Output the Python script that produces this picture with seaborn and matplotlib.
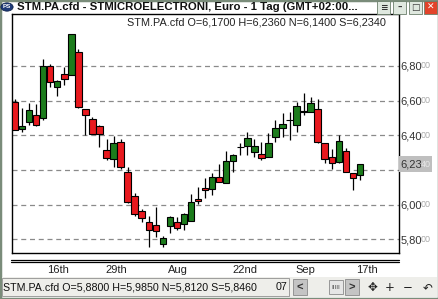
import numpy as np
import pandas as pd
import matplotlib
matplotlib.use("Agg")
import matplotlib.pyplot as plt
import seaborn as sns
from matplotlib.patches import Rectangle, Circle
from matplotlib.lines import Line2D
import matplotlib.transforms as mtrans

# ---------------- data ----------------
opens = [6.592, 6.438, 6.475, 6.516, 6.498, 6.800, 6.681, 6.754, 6.748, 6.883,
         6.550, 6.492, 6.454, 6.314, 6.263, 6.360, 6.190, 6.050, 5.962, 5.902,
         5.880, 5.773, 5.877, 5.902, 5.888, 5.906, 6.031, 6.098, 6.088, 6.161,
         6.123, 6.254, 6.331, 6.340, 6.306, 6.291, 6.273, 6.392, 6.444, 6.486,
         6.460, 6.535, 6.537, 6.550, 6.354, 6.277, 6.248, 6.311, 6.183, 6.170]
highs = [6.611, 6.558, 6.585, 6.581, 6.839, 6.812, 6.719, 6.796, 6.983, 6.898,
         6.552, 6.508, 6.461, 6.379, 6.396, 6.379, 6.219, 6.065, 5.973, 5.934,
         5.985, 5.819, 5.932, 5.930, 5.954, 6.060, 6.100, 6.156, 6.184, 6.235,
         6.310, 6.290, 6.358, 6.418, 6.377, 6.363, 6.415, 6.488, 6.527, 6.536,
         6.592, 6.646, 6.623, 6.608, 6.356, 6.319, 6.402, 6.325, 6.185, 6.236]
lows = [6.431, 6.421, 6.460, 6.455, 6.489, 6.677, 6.629, 6.690, 6.748, 6.560,
        6.402, 6.408, 6.335, 6.258, 6.219, 6.207, 6.008, 5.934, 5.902, 5.754,
        5.812, 5.757, 5.834, 5.854, 5.854, 5.906, 6.004, 6.037, 6.056, 6.132,
        6.123, 6.190, 6.287, 6.287, 6.273, 6.257, 6.273, 6.363, 6.388, 6.374,
        6.421, 6.517, 6.537, 6.354, 6.242, 6.204, 6.238, 6.186, 6.084, 6.140]
closes = [6.431, 6.452, 6.546, 6.458, 6.800, 6.708, 6.715, 6.723, 6.983, 6.565,
          6.516, 6.408, 6.408, 6.267, 6.358, 6.219, 6.017, 5.944, 5.921, 5.854,
          5.846, 5.805, 5.930, 5.864, 5.944, 6.013, 6.019, 6.085, 6.161, 6.132,
          6.252, 6.285, 6.331, 6.383, 6.339, 6.271, 6.354, 6.440, 6.464, 6.486,
          6.568, 6.540, 6.585, 6.363, 6.262, 6.238, 6.365, 6.186, 6.152, 6.234]

x_tick_pos = [6.1, 14.35, 23.15, 32.7, 41.2, 50.0]
x_tick_labels = ["16th", "29th", "Aug", "22nd", "Sep", "17th"]
y_ticks = [5.8, 6.0, 6.2, 6.4, 6.6, 6.8]
y_label_ticks = [5.8, 6.0, 6.4, 6.6, 6.8]          # 6,20 is hidden under the price marker
y_label_main = ["5,80", "6,00", "6,40", "6,60", "6,80"]
last_price = 6.234
last_main, last_tail = "6,23", "40"

title_text = "STM.PA.cfd - STMICROELECTRONI, Euro - 1 Tag (GMT+02:00..."
info_top = "STM.PA.cfd O=6,1700 H=6,2360 N=6,1400 S=6,2340"
info_bottom = "STM.PA.cfd O=5,8800 H=5,9850 N=5,8120 S=5,8460"

df = pd.DataFrame({"o": opens, "h": highs, "l": lows, "c": closes})
df["i"] = np.arange(len(df))
df["up"] = df["c"] >= df["o"]

RED = "#e8191e"
GREEN = "#1c7c1c"

sns.set_theme(style="white")
plt.rcParams["font.family"] = ["Liberation Sans", "DejaVu Sans"]

W, H = 439, 299
fig = plt.figure(figsize=(W / 100, H / 100), dpi=100)
fig.patch.set_facecolor("white")

def fx(x):
    return x / W

def fy(y):
    return 1 - y / H

# main axes
L, R, T, B = 11.7, 399, 14, 253.3
ax = fig.add_axes([fx(L), fy(B), fx(R) - fx(L), fy(T) - fy(B)])
ax.set_facecolor("white")
ax.set_xlim(-0.47, 54.55)
ax.set_ylim(5.719, 7.100)

# grid
for v in y_ticks:
    ax.axhline(v, color="#8a8a8a", lw=0.9, ls=(0, (4, 3)), zorder=0)

# wicks
ax.vlines(df["i"], df["l"], df["h"], color="black", lw=0.9, zorder=2)
# bodies
body_bottom = np.minimum(df["o"], df["c"])
body_h = np.abs(df["c"] - df["o"])
colors = [GREEN if u else RED for u in df["up"]]
ax.bar(df["i"], body_h, bottom=body_bottom, width=0.92, color=colors,
       edgecolor="black", linewidth=0.8, zorder=3)

for s in ["left", "right", "top", "bottom"]:
    ax.spines[s].set_color("black")
    ax.spines[s].set_linewidth(1.0)

ax.set_xticks(x_tick_pos)
ax.set_xticklabels(x_tick_labels, fontsize=8, color="#222222")
ax.tick_params(axis="x", length=0, pad=8.5)
ax.yaxis.tick_right()
ax.set_yticks(y_label_ticks)
ax.set_yticklabels(y_label_main, fontsize=8, color="#333333")
ax.tick_params(axis="y", length=0, pad=1.0)
ax.grid(False)

# small grey decimals after y labels
TAIL_OFF = 15.8
trans = mtrans.blended_transform_factory(ax.transAxes, ax.transData)
for v in y_label_ticks:
    ax.annotate("00", xy=(1, v), xycoords=trans, xytext=(TAIL_OFF, 0),
                textcoords="offset points", fontsize=6.5, color="#a8a8a8",
                va="center", ha="left", annotation_clip=False)

# current price marker: one grey box with the price split in two shades
ax.add_patch(Rectangle((1.0, last_price - 0.044), 33 / (R - L), 0.088, transform=trans,
                       fc="#bfbfbf", ec="none", clip_on=False, zorder=5))
ax.annotate(last_main, xy=(1, last_price), xycoords=trans, xytext=(1.0, 0),
            textcoords="offset points", fontsize=8, color="#333333",
            va="center", ha="left", annotation_clip=False, zorder=6)
ax.annotate(last_tail, xy=(1, last_price), xycoords=trans, xytext=(TAIL_OFF, 0),
            textcoords="offset points", fontsize=6.5, color="#e8e8e8",
            va="center", ha="left", annotation_clip=False, zorder=6)

ax.text(0.966, 0.985, info_top, transform=ax.transAxes, ha="right", va="top",
        fontsize=7.8, color="#222222")

# double line below plot
for yy in (259.5, 262.2):
    fig.add_artist(Line2D([fx(11), fx(399)], [fy(yy), fy(yy)], color="black", lw=0.9))

# window frame
fig.add_artist(Rectangle((0, 0), 1, 1, transform=fig.transFigure, fill=False,
                         ec="#7a8c7a", lw=2.5))

# title bar
fig.add_artist(Circle((fx(7), fy(7)), 0.014, transform=fig.transFigure,
                      fc="#1e3a78", ec="#0b1d45", lw=0.5))
fig.text(fx(7), fy(7), "PS", fontsize=4.5, color="white", ha="center", va="center",
         weight="bold")
fig.text(fx(17), fy(7.5), title_text, fontsize=8.2, weight="bold", color="#111111",
         ha="left", va="center")
btn_x = [377, 393, 409, 424]
btn_fc = ["#dfe8df", "#dfe8df", "#dfe8df", "#e2432a"]
btn_sym = ["\u2261", "\u2013", "\u25a1", "\u2715"]
for bx, fc, sym in zip(btn_x, btn_fc, btn_sym):
    fig.add_artist(Rectangle((fx(bx), fy(14)), 13 / W, 13 / H, transform=fig.transFigure,
                             fc=fc, ec="#6b7f6b", lw=0.6))
    fig.text(fx(bx + 6.5), fy(7.5), sym, fontsize=6.5, ha="center", va="center",
             color="white" if fc == "#e2432a" else "#333333", weight="bold",
             family=["DejaVu Sans"])

# status bar
fig.add_artist(Rectangle((fx(2), fy(297)), 435 / W, 20 / H, transform=fig.transFigure,
                         fc="#eeeeea", ec="none"))
fig.add_artist(Rectangle((fx(2), fy(296)), 287 / W, 18 / H, transform=fig.transFigure,
                         fill=False, ec="#909090", lw=0.6))
fig.text(fx(3), fy(287.5), info_bottom, fontsize=7.7, color="#111111",
         ha="left", va="center")
fig.text(fx(276), fy(287.5), "07", fontsize=7.7, color="#111111", ha="left", va="center")
for bx, sym in [(293, "<"), (345, ">")]:
    fig.add_artist(Rectangle((fx(bx), fy(295)), 14 / W, 16 / H, transform=fig.transFigure,
                             fc="#c4c4c4", ec="#8a8a8a", lw=0.6))
    fig.text(fx(bx + 7), fy(287.5), sym, fontsize=8, weight="bold", ha="center",
             va="center", color="#333333")
fig.add_artist(Rectangle((fx(329), fy(294)), 14 / W, 14 / H, transform=fig.transFigure,
                         fc="#e6e6e6", ec="#8a8a8a", lw=0.6))
fig.text(fx(336), fy(287.5), "IIIII", fontsize=4.5, ha="center", va="center", color="#444444")
for bx, sym in [(372, "\u2725"), (390, "+"), (408, "\u2212"), (428, "\u21b6")]:
    fig.text(fx(bx), fy(287.5), sym, fontsize=8.5, ha="center", va="center",
             color="#222222", family=["DejaVu Sans"])

fig.savefig("out.png", dpi=100, facecolor=fig.get_facecolor())
